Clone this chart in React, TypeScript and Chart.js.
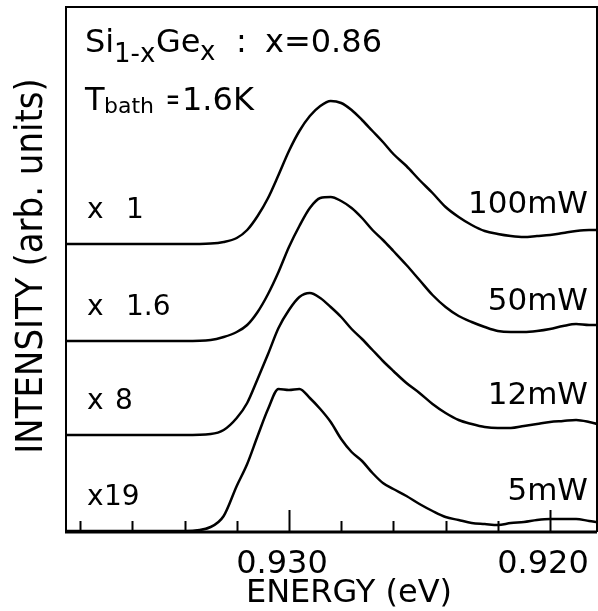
import React, { useEffect, useRef } from "react";
import { Chart, registerables } from "chart.js";

Chart.register(...registerables);

// Photon energy (eV), shared sampling grid for all spectra
const energies = [
  0.9386, 0.936, 0.934, 0.933, 0.9325, 0.932, 0.9316, 0.9312, 0.9308, 0.9304,
  0.93, 0.9296, 0.9292, 0.9288, 0.9284, 0.928, 0.9276, 0.9272, 0.9268, 0.9264,
  0.926, 0.9255, 0.925, 0.9245, 0.924, 0.9235, 0.923, 0.9225, 0.922, 0.9215,
  0.921, 0.9205, 0.92, 0.9195, 0.919, 0.9185, 0.9182,
];

// Intensities (arb. units) after the scaling factors, above each curve's baseline
const i100mW = [
  0, 0, 0, 0.1, 0.4, 1.2, 2.8, 5.6, 9.2, 13.8, 18.6, 22.6, 25.6, 27.6, 28.6, 28.2,
  26.8, 24.8, 22.6, 20.4, 18.0, 15.6, 12.8, 10.2, 7.4, 5.4, 3.8, 2.6, 2.0, 1.6,
  1.4, 1.6, 1.8, 2.2, 2.6, 2.8, 2.8,
];
const i50mW = [
  0, 0, 0, 0.2, 0.8, 1.8, 3.2, 5.8, 9.4, 13.8, 18.8, 23.0, 26.6, 28.6, 28.8, 28.0,
  26.6, 24.6, 22.2, 20.2, 18.0, 15.2, 12.2, 9.2, 6.8, 5.0, 3.8, 2.8, 2.0, 1.8,
  1.8, 2.0, 2.4, 3.0, 3.4, 3.2, 3.2,
];
const i12mW = [
  0, 0, 0, 0.2, 1.0, 3.4, 6.4, 11.2, 16.2, 21.4, 25.0, 27.6, 28.4, 27.4, 25.6,
  23.6, 21.2, 19.2, 17.0, 14.8, 12.8, 10.4, 8.4, 6.2, 4.4, 3.0, 2.2, 1.6, 1.4,
  1.4, 1.8, 2.2, 2.6, 2.8, 3.0, 2.6, 2.2,
];
const i5mW = [
  0, 0, 0, 0.8, 3.0, 9.0, 13.4, 19.0, 24.4, 28.4, 28.2, 28.4, 26.6, 24.4, 21.8,
  18.4, 15.8, 14.0, 11.6, 9.6, 8.4, 7.0, 5.4, 4.0, 2.8, 2.2, 1.6, 1.4, 1.2, 1.6,
  1.8, 2.2, 2.4, 2.4, 2.4, 2.0, 1.8,
];

const spectra = [i100mW, i50mW, i12mW, i5mW];
const powers = ["100mW", "50mW", "12mW", "5mW"];
const factors = ["1", "1.6", "8", "19"];
const offsets = [57.6, 38.2, 19.4, 0.2];

// Axis
const xMax = 0.93854;
const xMin = 0.9182;
const yMax = 105;
const tickValues = [0.938, 0.936, 0.934, 0.932, 0.93, 0.928, 0.926, 0.924, 0.922, 0.92];
const majorTicks = [0.93, 0.92];
const tickLabels = ["0.930", "0.920"];

const FONT = "'DejaVu Sans'";

const decor = {
  id: "decor",
  afterDraw(chart: any) {
    const { ctx, chartArea: a, scales } = chart;
    const xs = scales.x;
    const ys = scales.y;
    ctx.save();
    ctx.strokeStyle = "#000";
    ctx.fillStyle = "#000";
    ctx.lineCap = "butt";

    // frame
    ctx.lineWidth = 2;
    ctx.beginPath();
    ctx.moveTo(a.left, a.bottom);
    ctx.lineTo(a.left, a.top);
    ctx.lineTo(a.right, a.top);
    ctx.lineTo(a.right, a.bottom);
    ctx.stroke();
    ctx.lineWidth = 3;
    ctx.beginPath();
    ctx.moveTo(a.left - 1, a.bottom);
    ctx.lineTo(a.right, a.bottom);
    ctx.stroke();

    // inward ticks
    ctx.lineWidth = 2;
    tickValues.forEach((v) => {
      const px = Math.round(xs.getPixelForValue(v)) + 0.5;
      const len = majorTicks.includes(v) ? 22 : 11;
      ctx.beginPath();
      ctx.moveTo(px, a.bottom);
      ctx.lineTo(px, a.bottom - len);
      ctx.stroke();
    });

    // tick labels
    ctx.font = `32px ${FONT}`;
    ctx.textAlign = "center";
    ctx.textBaseline = "alphabetic";
    majorTicks.forEach((v, k) => {
      ctx.fillText(tickLabels[k], xs.getPixelForValue(v) - 7, 573);
    });

    // x title
    ctx.fillText("ENERGY (eV)", 349, 602);

    // y title
    ctx.save();
    ctx.translate(42, 266);
    ctx.rotate(-Math.PI / 2);
    ctx.scale(0.92, 1);
    ctx.font = `37px ${FONT}`;
    ctx.textAlign = "center";
    ctx.fillText("INTENSITY (arb. units)", 0, 0);
    ctx.restore();

    // header annotation
    ctx.textAlign = "left";
    ctx.font = `32px ${FONT}`;
    ctx.fillText("Si", 85, 52);
    ctx.font = `26px ${FONT}`;
    ctx.fillText("1-x", 114, 62);
    ctx.font = `32px ${FONT}`;
    ctx.fillText("Ge", 156, 52);
    ctx.font = `26px ${FONT}`;
    ctx.fillText("x", 200, 60);
    ctx.font = `32px ${FONT}`;
    ctx.fillText(":", 236, 52);
    ctx.fillText("x=0.86", 265, 52);

    ctx.fillText("T", 85, 110);
    ctx.font = `22px ${FONT}`;
    ctx.fillText("bath", 104, 113);
    ctx.save();
    ctx.translate(166, 109);
    ctx.scale(0.55, 1);
    ctx.font = `30px ${FONT}`;
    ctx.fillText("=", 0, 0);
    ctx.restore();
    ctx.font = `32px ${FONT}`;
    ctx.fillText("1.6K", 182, 110);

    // curve labels
    const factorX = [126, 126, 115, 104];
    spectra.forEach((_, k) => {
      const base = ys.getPixelForValue(offsets[k]);
      ctx.textAlign = "left";
      ctx.font = `28px ${FONT}`;
      ctx.fillText("x", 87, base - 26);
      ctx.fillText(factors[k], factorX[k], base - 26);
      ctx.textAlign = "right";
      ctx.font = `31px ${FONT}`;
      ctx.fillText(powers[k], 588, base - 31);
    });

    ctx.restore();
  },
};

export default function App() {
  const ref = useRef<HTMLCanvasElement>(null);

  useEffect(() => {
    const canvas = ref.current;
    if (!canvas) return;
    const datasets = spectra.map((arr, k) => ({
      label: powers[k],
      data: energies.map((e, i) => ({ x: e, y: offsets[k] + arr[i] })),
      borderColor: "#000",
      borderWidth: 2.5,
      pointRadius: 0,
      fill: false,
      cubicInterpolationMode: "monotone" as const,
    }));
    const chart = new Chart(canvas, {
      type: "line",
      data: { datasets },
      options: {
        responsive: false,
        animation: false,
        devicePixelRatio: 1,
        layout: { padding: { left: 66, top: 7, right: 1, bottom: 79 } },
        plugins: {
          legend: { display: false },
          tooltip: { enabled: false },
        },
        scales: {
          x: { type: "linear", reverse: true, min: xMin, max: xMax, display: false },
          y: { type: "linear", min: 0, max: yMax, display: false },
        },
      },
      plugins: [decor],
    });
    return () => chart.destroy();
  }, []);

  return (
    <div
      style={{
        position: "absolute",
        left: 0,
        top: 0,
        width: 598,
        height: 611,
        background: "#fff",
      }}
    >
      <canvas ref={ref} width={598} height={611} style={{ display: "block" }} />
    </div>
  );
}
